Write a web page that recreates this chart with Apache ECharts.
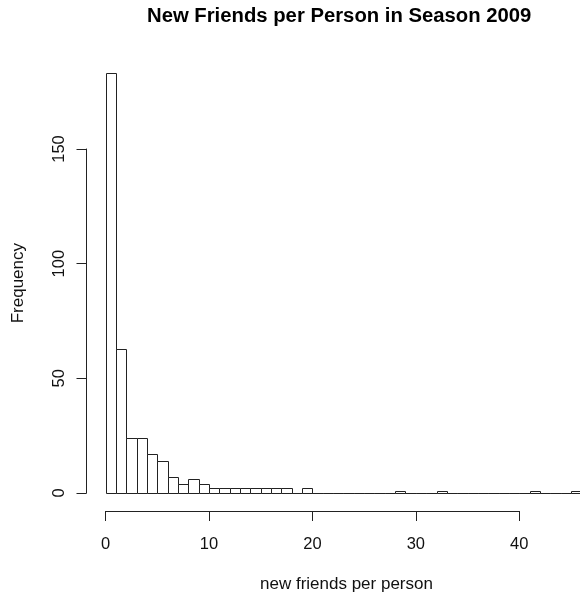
<!DOCTYPE html>
<html>
<head>
<meta charset="utf-8">
<script src="https://cdn.jsdelivr.net/npm/echarts@6/dist/echarts.min.js"></script>
<style>
html,body{margin:0;padding:0;background:#fff;}
#chart{width:580px;height:596px;}
</style>
</head>
<body>
<div id="chart"></div>
<script>
// Histogram bins (width 1) and frequencies
const binStarts = [0,1,2,3,4,5,6,7,8,9,10,11,12,13,14,15,16,17,18,19,20,21,22,23,24,25,26,27,28,29,30,31,32,33,34,35,36,37,38,39,40,41,42,43,44,45];
const counts    = [183,63,24,24,17,14,7,4,6,4,2,2,2,2,2,2,2,2,0,2,0,0,0,0,0,0,0,0,1,0,0,0,1,0,0,0,0,0,0,0,0,1,0,0,0,1];
const xTicks = [0,10,20,30,40];
const yTicks = [0,50,100,150];
const titleText = 'New Friends per Person in Season 2009';
const xLabel = 'new friends per person';
const yLabel = 'Frequency';

const binWidth = 1;
const histData = [];
for (let i = 0; i < binStarts.length; i++) {
  histData.push([binStarts[i], binStarts[i] + binWidth, counts[i]]);
}

const ink = '#222';
const font = 'Liberation Sans, Arial, sans-serif';
const hiddenAxis = {type: 'value', show: false, min: 0, max: 1};

const chart = echarts.init(document.getElementById('chart'), null, {renderer: 'canvas'});
chart.setOption({
  backgroundColor: '#fff',
  animation: false,
  title: [
    {text: titleText, left: 147, top: 6, padding: 0,
     textStyle: {fontFamily: font, fontSize: 20.3, fontWeight: 'bold', color: '#000'}},
    {text: xLabel, left: 260, top: 576, padding: 0,
     textStyle: {fontFamily: font, fontSize: 17, fontWeight: 'normal', color: '#111'}}
  ],
  grid: [
    {left: 86.5, right: 0, top: 56.5, bottom: 596 - 509.8, containLabel: false},
    {left: 105.5, width: 413.8, top: 510, height: 1, containLabel: false},
    {left: 86.5, width: 1, top: 149, height: 344, containLabel: false}
  ],
  xAxis: [
    {gridIndex: 0, type: 'value', min: -1.837, max: 45.87, show: false},
    {gridIndex: 1, type: 'value', min: xTicks[0], max: xTicks[xTicks.length - 1], interval: 10,
     position: 'bottom',
     axisLine: {show: true, onZero: false, lineStyle: {color: ink, width: 1}},
     axisTick: {show: true, inside: false, length: 10, lineStyle: {color: ink, width: 1}},
     axisLabel: {show: true, margin: 25, fontFamily: font, fontSize: 16.5, color: '#111',
                 showMinLabel: true, showMaxLabel: true},
     splitLine: {show: false}},
    Object.assign({gridIndex: 2}, hiddenAxis)
  ],
  yAxis: [
    {gridIndex: 0, type: 'value', min: -7.32, max: 190.32, show: true,
     axisLine: {show: false}, axisTick: {show: false}, axisLabel: {show: false}, splitLine: {show: false},
     name: yLabel, nameLocation: 'middle', nameRotate: 90, nameGap: 60,
     nameTextStyle: {fontFamily: font, fontSize: 17, color: '#111'}},
    Object.assign({gridIndex: 1}, hiddenAxis),
    {gridIndex: 2, type: 'value', min: yTicks[0], max: yTicks[yTicks.length - 1], interval: 50,
     position: 'left',
     axisLine: {show: true, onZero: false, lineStyle: {color: ink, width: 1}},
     axisTick: {show: true, inside: false, length: 10, lineStyle: {color: ink, width: 1}},
     axisLabel: {show: true, rotate: 90, margin: 19, fontFamily: font, fontSize: 16.5, color: '#111',
                 align: 'center', verticalAlign: 'bottom', showMinLabel: true, showMaxLabel: true},
     splitLine: {show: false}}
  ],
  series: [{
    type: 'custom',
    xAxisIndex: 0,
    yAxisIndex: 0,
    clip: true,
    data: histData,
    renderItem: function (params, api) {
      const x0 = api.value(0), x1 = api.value(1), y = api.value(2);
      const p0 = api.coord([x0, 0]);
      const p1 = api.coord([x1, y]);
      const left = Math.round(p0[0]) + 0.5;
      const right = Math.round(p1[0]) + 0.5;
      const top = Math.round(p1[1]) + 0.5;
      const bottom = Math.round(p0[1]) + 0.5;
      return {
        type: 'rect',
        shape: {x: left, y: top, width: right - left, height: bottom - top},
        style: {fill: '#fff', stroke: ink, lineWidth: 1}
      };
    }
  }]
});
</script>
</body>
</html>
